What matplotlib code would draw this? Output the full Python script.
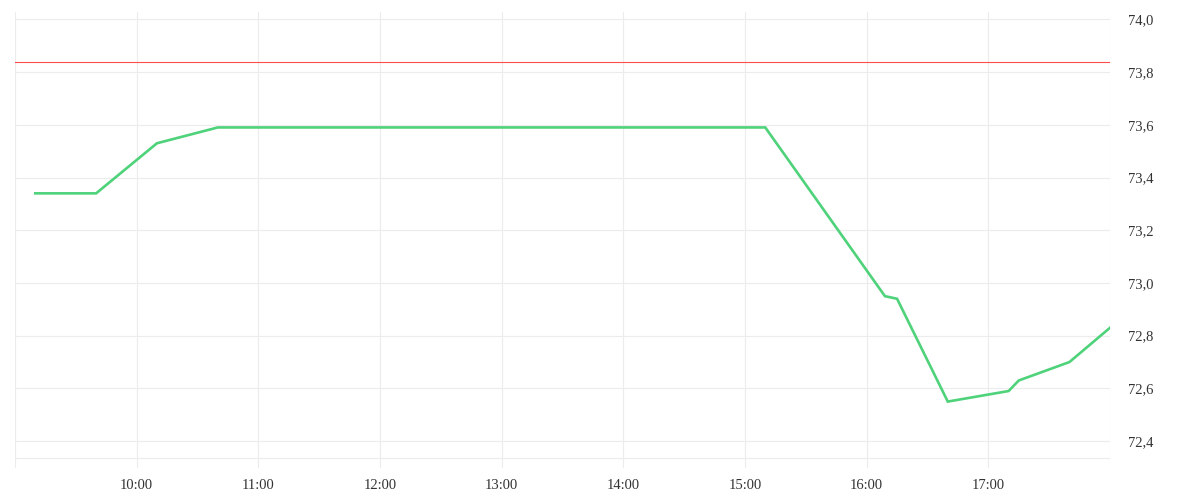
import matplotlib
matplotlib.use("Agg")
import matplotlib.pyplot as plt
import matplotlib.dates as mdates
from matplotlib.ticker import FuncFormatter, MultipleLocator
import pandas as pd

# price series
times = ["09:10", "09:40", "10:10", "10:40", "15:10", "16:09", "16:15",
         "16:40", "17:10", "17:15", "17:40", "18:00"]
prices = [73.34, 73.34, 73.53, 73.59, 73.59, 72.95, 72.94,
          72.55, 72.59, 72.63, 72.70, 72.83]
ref_price = 73.84

day = "2024-01-02 "
x = pd.to_datetime([day + t for t in times])
x_start = pd.Timestamp(day + "09:00")
x_end = pd.Timestamp(day + "18:00")

plt.rcParams['font.family'] = ['Liberation Serif', 'DejaVu Serif']
grid_c = "#ececec"
text_c = "#333333"

fig = plt.figure(figsize=(12, 5), dpi=100)
ax = fig.add_axes([15/1200, 1 - 468/500, 1095/1200, 456/500])

ax.plot(x, prices, color="#4ed27a", lw=1.9, solid_joinstyle="miter", zorder=3)
ax.axhline(ref_price, color="#ff4d4d", lw=0.8, zorder=2)

ax.set_xlim(x_start, x_end)
ax.set_ylim(72.298, 74.028)

ax.xaxis.set_major_locator(mdates.HourLocator(byhour=range(10, 18)))
ax.xaxis.set_major_formatter(mdates.DateFormatter("%H:%M"))
ax.yaxis.set_major_locator(MultipleLocator(0.2))
ax.yaxis.set_major_formatter(FuncFormatter(lambda v, p: f"{v:.1f}".replace(".", ",")))
ax.yaxis.tick_right()

ax.grid(True, color=grid_c, lw=0.8, zorder=0)
for s in ax.spines.values():
    s.set_visible(False)
ax.axvline(x_start, color=grid_c, lw=0.8, zorder=0)
ax.axvline(x_end, color=grid_c, lw=0.8, zorder=0)
ax.axhline(72.335, color=grid_c, lw=0.8, zorder=0)

ax.tick_params(axis="both", length=0, labelsize=10.5, colors=text_c)
ax.tick_params(axis="y", pad=13)
ax.tick_params(axis="x", pad=8)

fig.savefig("out.png", dpi=100)
